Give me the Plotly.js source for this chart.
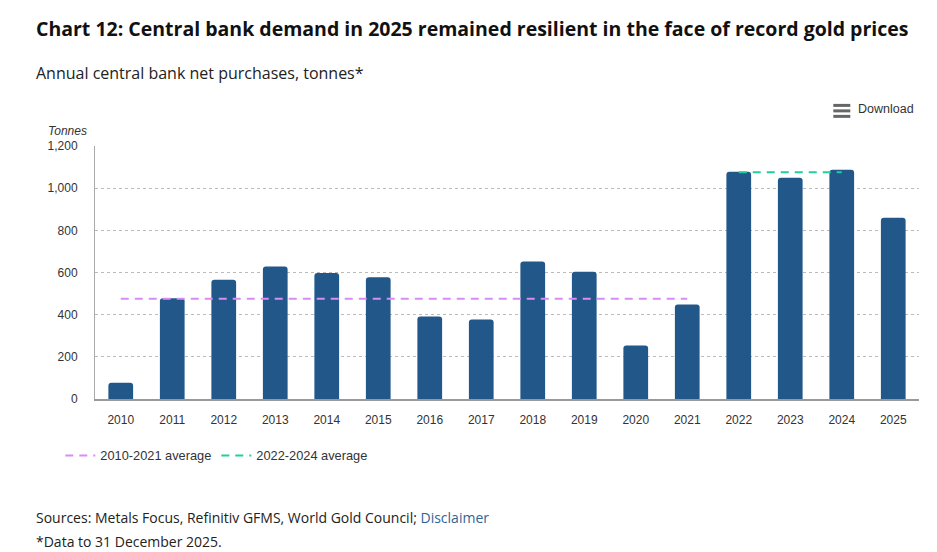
<!DOCTYPE html>
<html>
<head>
<meta charset="utf-8">
<script src="https://cdn.plot.ly/plotly-3.0.1.min.js"></script>
<style>
html,body{margin:0;padding:0;background:#fff;}
#chart{width:937px;height:552px;}
</style>
</head>
<body>
<div id="chart"></div>
<script>
// Data
const years = ['2010','2011','2012','2013','2014','2015','2016','2017','2018','2019','2020','2021','2022','2023','2024','2025'];
const purchases = [77, 478, 566, 628, 598, 577, 391, 377, 652, 604, 254, 448, 1078, 1049, 1087, 860];
const avgPeriod1 = ['2010','2021'];
const avgValue1 = 476;
const avgPeriod2 = ['2022','2024'];
const avgValue2 = 1076;
const yTickVals = [0, 200, 400, 600, 800, 1000, 1200];
const yTickText = ['0', '200', '400', '600', '800', '1,000', '1,200'];

const W = 937, H = 552;
const plotL = 94.7, plotR = 918.7, plotT = 145.7, plotB = 399.3;
const px = x => (x - plotL) / (plotR - plotL);
const py = y => (plotB - y) / (plotB - plotT);

const traces = [
  {
    type: 'bar', x: years, y: purchases, name: 'Central bank net purchases',
    marker: {color: '#22578A', cornerradius: 3},
    showlegend: false, hoverinfo: 'x+y'
  },
  {
    type: 'scatter', mode: 'lines', x: avgPeriod1, y: [avgValue1, avgValue1],
    name: '2010-2021 average',
    line: {color: '#D78CF7', width: 2, dash: '8px,6px'}
  },
  {
    type: 'scatter', mode: 'lines', x: avgPeriod2, y: [avgValue2, avgValue2],
    name: '2022-2024 average',
    line: {color: '#21CF9C', width: 2, dash: '8px,6px'}
  }
];

const axisFont = {family: 'Liberation Sans, Arial, sans-serif', size: 12, color: '#333'};

const layout = {
  width: W, height: H,
  margin: {l: plotL, r: W - plotR, t: plotT, b: H - plotB, pad: 0},
  paper_bgcolor: '#fff', plot_bgcolor: '#fff',
  font: axisFont,
  bargap: 0.52,
  showlegend: true,
  legend: {
    orientation: 'h', x: px(60), y: py(456), yanchor: 'middle', xanchor: 'left',
    font: {family: 'Liberation Sans, Arial, sans-serif', size: 12.8, color: '#333'},
    itemwidth: 30, tracegroupgap: 0, traceorder: 'normal'
  },
  xaxis: {
    type: 'category', categoryorder: 'array', categoryarray: years,
    showgrid: false, showline: true, linecolor: '#999', linewidth: 1.5,
    ticks: '', tickfont: axisFont, ticklabelstandoff: 9, fixedrange: true
  },
  yaxis: {
    range: [0, 1200], tickvals: yTickVals, ticktext: yTickText,
    showgrid: true, gridcolor: '#bbb', griddash: 'dot', gridwidth: 1,
    zeroline: false, showline: true, linecolor: '#aaa', linewidth: 1,
    ticks: '', tickfont: axisFont, ticklabelstandoff: 14, fixedrange: true
  },
  shapes: [
    {type: 'line', xref: 'paper', yref: 'paper', x0: px(833), x1: px(850), y0: py(105), y1: py(105), line: {color: '#666', width: 3}},
    {type: 'line', xref: 'paper', yref: 'paper', x0: px(833), x1: px(850), y0: py(110.5), y1: py(110.5), line: {color: '#666', width: 3}},
    {type: 'line', xref: 'paper', yref: 'paper', x0: px(833), x1: px(850), y0: py(116), y1: py(116), line: {color: '#666', width: 3}}
  ],
  annotations: [
    {xref: 'paper', yref: 'paper', x: px(34), y: py(27.5), xanchor: 'left', yanchor: 'middle', showarrow: false,
     text: '<b>Chart 12: Central bank demand in 2025 remained resilient in the face of record gold prices</b>',
     font: {family: 'Open Sans, Noto Sans, sans-serif', size: 19.5, color: '#111'}},
    {xref: 'paper', yref: 'paper', x: px(34), y: py(73), xanchor: 'left', yanchor: 'middle', showarrow: false,
     text: 'Annual central bank net purchases, tonnes*',
     font: {family: 'Open Sans, Noto Sans, sans-serif', size: 16, color: '#222'}},
    {xref: 'paper', yref: 'paper', x: px(46), y: py(131), xanchor: 'left', yanchor: 'middle', showarrow: false,
     text: '<i>Tonnes</i>', font: axisFont},
    {xref: 'paper', yref: 'paper', x: px(856), y: py(108.5), xanchor: 'left', yanchor: 'middle', showarrow: false,
     text: 'Download', font: {family: 'Liberation Sans, Arial, sans-serif', size: 12.5, color: '#333'}},
    {xref: 'paper', yref: 'paper', x: px(34), y: py(518), xanchor: 'left', yanchor: 'middle', showarrow: false,
     text: 'Sources: Metals Focus, Refinitiv GFMS, World Gold Council; <span style="color:#2F6496">Disclaimer</span>',
     font: {family: 'Open Sans, Noto Sans, sans-serif', size: 14, color: '#222'}},
    {xref: 'paper', yref: 'paper', x: px(34), y: py(542), xanchor: 'left', yanchor: 'middle', showarrow: false,
     text: '*Data to 31 December 2025.',
     font: {family: 'Open Sans, Noto Sans, sans-serif', size: 14, color: '#222'}}
  ]
};

Plotly.newPlot('chart', traces, layout, {displayModeBar: false, responsive: false});
</script>
</body>
</html>
